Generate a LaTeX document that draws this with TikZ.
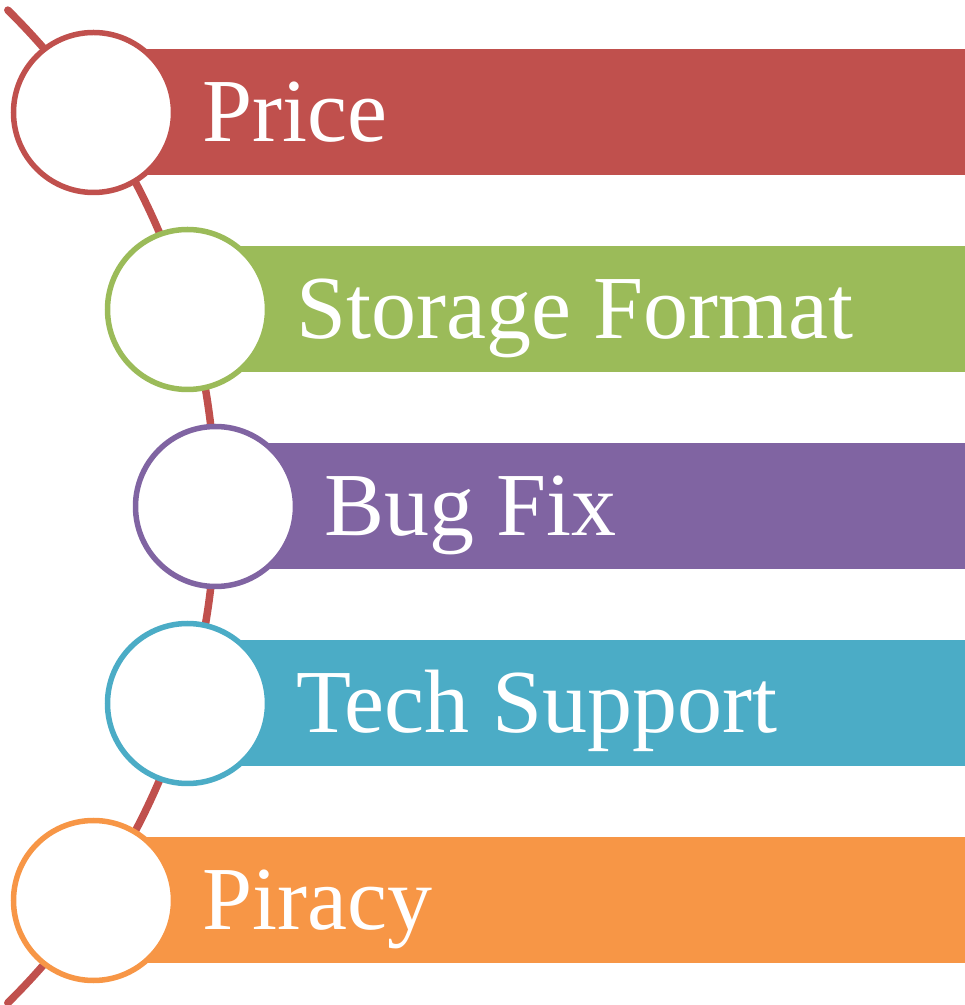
\documentclass[tikz,border=0pt]{standalone}
\usepackage{fontspec}
\setmainfont{Liberation Serif}
\usetikzlibrary{calc}
\definecolor{cred}{HTML}{C0504D}
\definecolor{cgreen}{HTML}{9BBB59}
\definecolor{cpurple}{HTML}{8064A2}
\definecolor{cteal}{HTML}{4BACC6}
\definecolor{corange}{HTML}{F79646}
\tikzset{
  ring/.style={circle, draw=#1, line width=5.5pt, fill=white, minimum size=160pt, inner sep=0pt},
  bar/.style={rectangle, fill=#1, anchor=west, minimum height=126pt, inner sep=0pt},
  label/.style={anchor=base west, inner sep=0pt, text=white, font=\fontsize{90}{100}\selectfont},
  spine/.style={draw=cred, line width=7.5pt, line cap=round}
}
\begin{document}
\begin{tikzpicture}[x=1pt,y=1pt]
\useasboundingbox (0,0) rectangle (965,1005);
% spine arc
\coordinate (arcstart) at ($(-481.7,498.5)+(45.4:697.2)$);
\draw[spine] (arcstart) arc[start angle=45.4, end angle=-45.4, radius=697.2];
% bars
\node[bar=cred, minimum width=871.5pt] (b1) at (93.5,892.5) {};
\node[bar=cgreen, minimum width=777.5pt] (b2) at (187.5,695.5) {};
\node[bar=cpurple, minimum width=749.5pt] (b3) at (215.5,498.5) {};
\node[bar=cteal, minimum width=777.5pt] (b4) at (187.5,301.5) {};
\node[bar=corange, minimum width=871.5pt] (b5) at (93.5,104.5) {};
% circles
\node[ring=cred] (c1) at (93.5,892.5) {};
\node[ring=cgreen] (c2) at (187.5,695.5) {};
\node[ring=cpurple] (c3) at (215.5,498.5) {};
\node[ring=cteal] (c4) at (187.5,301.5) {};
\node[ring=corange] (c5) at (93.5,104.5) {};
% labels
\node[label] (t1) at (202,863.5) {Price};
\node[label] (t2) at (296,666.5) {Storage Format};
\node[label] (t3) at (324,469.5) {Bug Fix};
\node[label] (t4) at (296,272.5) {Tech Support};
\node[label] (t5) at (202,75.5) {Piracy};
\end{tikzpicture}
\end{document}
